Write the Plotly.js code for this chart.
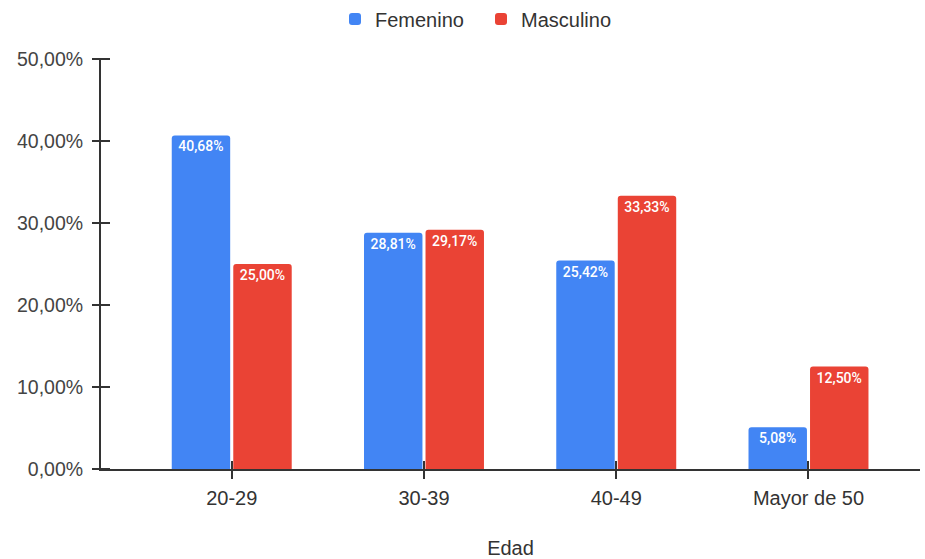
<!DOCTYPE html>
<html>
<head>
<meta charset="utf-8">
<script src="https://cdn.plot.ly/plotly-3.0.1.min.js"></script>
<style>html,body{margin:0;padding:0;background:#fff;}#chart{width:925px;height:559px;}</style>
</head>
<body>
<div id="chart"></div>
<script>
const categories = ["20-29", "30-39", "40-49", "Mayor de 50"];
const femenino = [0.4068, 0.2881, 0.2542, 0.0508];
const masculino = [0.25, 0.2917, 0.3333, 0.125];
const seriesNames = ["Femenino", "Masculino"];
const xTitle = "Edad";

const axisFont = "'Liberation Sans', Arial, sans-serif";
const labelFont = {family: "Roboto, Arial, sans-serif", size: 14, color: "#ffffff", weight: 500};
function barTrace(name, vals, color) {
  return {
    type: "bar", name: name, x: categories, y: vals,
    marker: {color: color, cornerradius: 3},
    texttemplate: "%{y:.2%}", textposition: "inside", insidetextanchor: "end",
    textfont: labelFont, textangle: 0, hoverinfo: "x+y+name"
  };
}
const data = [
  barTrace(seriesNames[0], femenino, "#4285F4"),
  barTrace(seriesNames[1], masculino, "#EA4335"),
  {type: "scatter", mode: "none", x: categories, y: femenino, xaxis: "x2", yaxis: "y2", showlegend: false, hoverinfo: "skip"}
];
const rng = [-0.68, 3.58];
const plotW = 925 - 101 - 5;
const layout = {
  width: 925, height: 559,
  margin: {l: 101, r: 5, t: 59, b: 90},
  separators: ",.",
  font: {family: axisFont, size: 19.5, color: "#444"},
  paper_bgcolor: "#fff", plot_bgcolor: "#fff",
  barmode: "group", bargap: 0.36, bargroupgap: 0.05,
  showlegend: true,
  legend: {orientation: "h", x: 335/925, xanchor: "left", xref: "container", y: 1 - 19/559, yref: "container", yanchor: "middle",
           font: {size: 20, color: "#333"}, itemwidth: 30, entrywidth: 101, entrywidthmode: "pixels"},
  xaxis: {type: "category", categoryarray: categories, range: rng, showline: true, linecolor: "#333", linewidth: 1.5,
          ticks: "outside", ticklen: 8, tickcolor: "#333", tickwidth: 1.5, showgrid: false, zeroline: false,
          tickfont: {size: 20, color: "#333"}, ticklabelstandoff: 2,
          title: {text: xTitle, font: {size: 20, color: "#333"}, standoff: 36}},
  xaxis2: {type: "category", categoryarray: categories, overlaying: "x", anchor: "y", side: "bottom", range: rng,
           ticks: "inside", ticklen: 8, tickcolor: "#333", tickwidth: 1.5, showticklabels: false, showgrid: false, zeroline: false, showline: false},
  yaxis: {range: [0, 0.5], showline: true, linecolor: "#333", linewidth: 1.5, ticks: "", showticklabels: false,
          showgrid: false, zeroline: false},
  yaxis2: {overlaying: "y", anchor: "free", position: 9/plotW, side: "left", range: [0, 0.5], tickmode: "linear", tick0: 0, dtick: 0.1,
           tickformat: ".2%", ticks: "outside", ticklen: 18, tickcolor: "#333", tickwidth: 1.5,
           tickfont: {size: 19.5, color: "#444"}, ticklabelstandoff: 5,
           showgrid: false, zeroline: false, showline: false}
};
Plotly.newPlot("chart", data, layout, {displayModeBar: false, responsive: false});
</script>
</body>
</html>
